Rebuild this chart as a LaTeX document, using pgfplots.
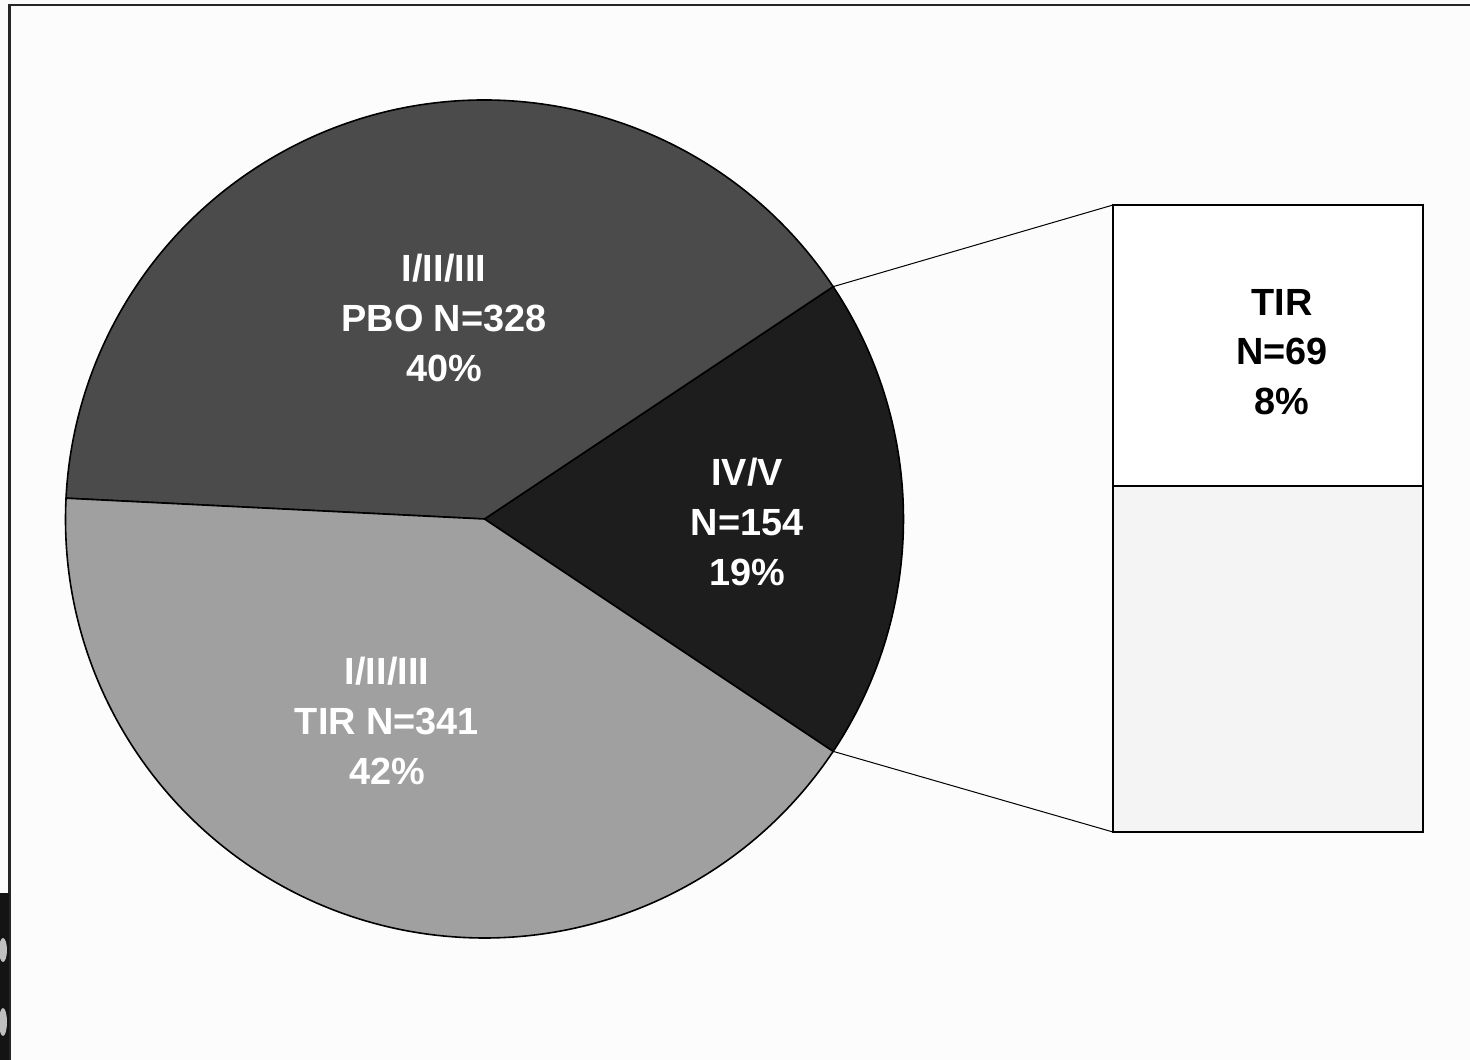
\documentclass[border=0pt]{standalone}
\usepackage{pgfplots}
\usepackage{pgfplotstable}
\pgfplotsset{compat=1.18}
\usepackage{fontspec}
\setmainfont{Liberation Sans}

\definecolor{bg}{HTML}{FCFCFC}
\definecolor{pbo}{HTML}{4B4B4B}
\definecolor{ivv}{HTML}{1D1D1D}
\definecolor{tir}{HTML}{A0A0A0}
\definecolor{barlow}{HTML}{F4F4F4}

% pie: subgroups
\pgfplotstableread{
grp n
IVV 154
PBO 328
TIR 341
}\pietable

\pgfplotstablegetelem{0}{n}\of\pietable \let\nIVV\pgfplotsretval
\pgfplotstablegetelem{1}{n}\of\pietable \let\nPBO\pgfplotsretval
\pgfplotstablegetelem{2}{n}\of\pietable \let\nTIR\pgfplotsretval
\pgfmathsetmacro\total{\nIVV+\nPBO+\nTIR}
\pgfmathsetmacro\fIVV{\nIVV/\total}
\pgfmathsetmacro\fPBO{\nPBO/\total}
\pgfmathsetmacro\fTIR{\nTIR/\total}
\pgfmathsetmacro\aA{-180*\fIVV}
\pgfmathsetmacro\aB{\aA+360*\fIVV}
\pgfmathsetmacro\aC{\aB+360*\fPBO}
\pgfmathsetmacro\aD{\aC+360*\fTIR}

\def\cx{484.5}
\def\cy{519}
\def\R{419}

\newcommand{\lbl}{\bfseries\fontsize{19}{25}\selectfont}

\begin{document}
\begin{tikzpicture}
\useasboundingbox (0,0) rectangle (735bp,530bp);
\clip (0,0) rectangle (735bp,530bp);
\begin{axis}[
    at={(0,0)}, anchor=south west,
    scale only axis, width=735bp, height=530bp,
    xmin=0, xmax=1470, ymin=0, ymax=1060,
    y dir=reverse,
    hide axis, clip=false,
]
% background and frame
\fill[bg] (axis cs:0,0) rectangle (axis cs:1470,1060);
\draw[line width=1.2bp, black!85] (axis cs:9.5,1062) -- (axis cs:9.5,5) -- (axis cs:1472,5);
\fill[black!92] (axis cs:0,893) rectangle (axis cs:8.5,1060);
\fill[black!25] (axis cs:3,950) ellipse[x radius=2bp, y radius=6bp];
\fill[black!25] (axis cs:3,1022) ellipse[x radius=2bp, y radius=7bp];

% pie slices
\filldraw[fill=ivv, draw=black, line width=0.8bp]
  (axis cs:\cx,\cy) -- (axis cs:{\cx+\R*cos(\aA)},{\cy-\R*sin(\aA)})
  arc[start angle=\aA, end angle=\aB, radius=209.5bp] -- cycle;
\filldraw[fill=pbo, draw=black, line width=0.8bp]
  (axis cs:\cx,\cy) -- (axis cs:{\cx+\R*cos(\aB)},{\cy-\R*sin(\aB)})
  arc[start angle=\aB, end angle=\aC, radius=209.5bp] -- cycle;
\filldraw[fill=tir, draw=black, line width=0.8bp]
  (axis cs:\cx,\cy) -- (axis cs:{\cx+\R*cos(\aC)},{\cy-\R*sin(\aC)})
  arc[start angle=\aC, end angle=\aD, radius=209.5bp] -- cycle;

% connectors to the bar
\draw[line width=0.5bp] (axis cs:{\cx+\R*cos(\aB)},{\cy-\R*sin(\aB)}) -- (axis cs:1113,205);
\draw[line width=0.5bp] (axis cs:{\cx+\R*cos(\aA)},{\cy-\R*sin(\aA)}) -- (axis cs:1113,832);

% pie labels
\node[white, align=center, font=\lbl] at (axis cs:444,318) {I/II/III\\PBO N=328\\40\%};
\node[white, align=center, font=\lbl] at (axis cs:747,522) {IV/V\\N=154\\19\%};
\node[white, align=center, font=\lbl] at (axis cs:387,721) {I/II/III\\TIR N=341\\42\%};
\end{axis}

% bar of pie: IV/V split into TIR (69) and the rest (85)
\begin{axis}[
    at={(556.5bp,114bp)}, anchor=south west,
    scale only axis, width=155bp, height=313.5bp,
    xmin=-0.5, xmax=0.5, ymin=0, ymax=154,
    hide axis, clip=false,
    ybar stacked, bar width=155bp,
]
\addplot[fill=barlow, draw=black, line width=1.3bp] coordinates {(0,85)};
\addplot[fill=white, draw=black, line width=1.3bp] coordinates {(0,69)};
\end{axis}

% bar label, in the pixel frame of the first axis
\begin{axis}[
    at={(0,0)}, anchor=south west,
    scale only axis, width=735bp, height=530bp,
    xmin=0, xmax=1470, ymin=0, ymax=1060,
    y dir=reverse,
    hide axis, clip=false,
]
\node[black, align=center, font=\lbl] at (axis cs:1282,352) {TIR\\N=69\\8\%};
\end{axis}
\end{tikzpicture}
\end{document}
